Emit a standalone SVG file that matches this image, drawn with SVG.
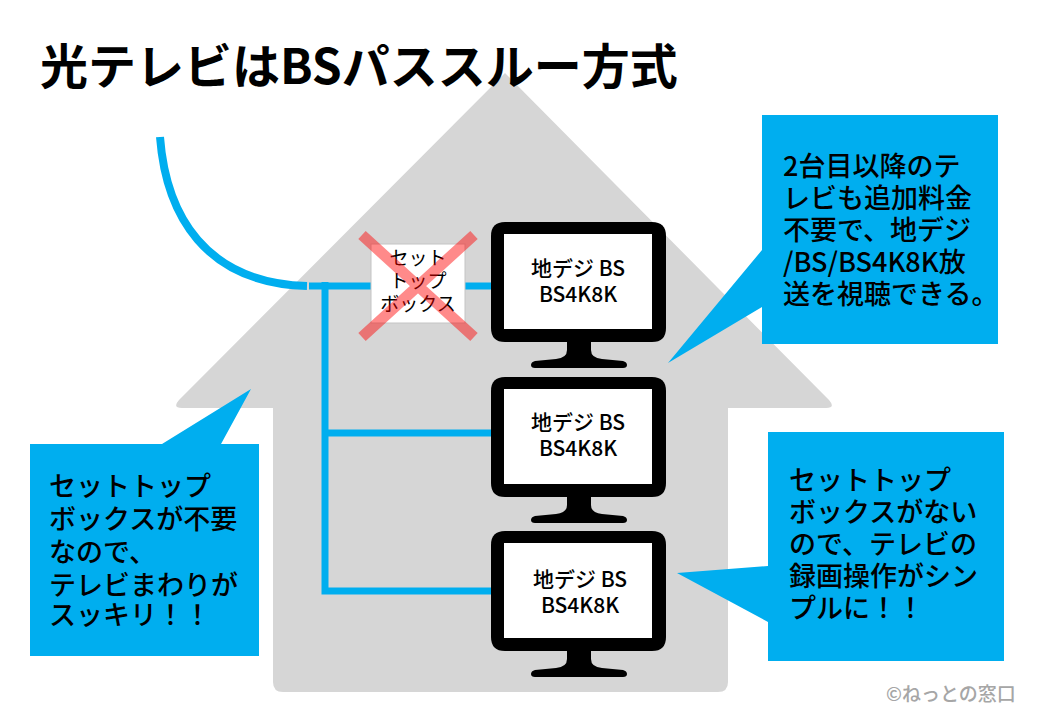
<svg xmlns="http://www.w3.org/2000/svg" width="1040" height="720" viewBox="0 0 1040 720">
<style>
text{font-family:"Noto Sans CJK JP","Noto Sans",sans-serif}
.t{font-size:48px;font-weight:700;fill:#000}
.c{font-size:27px;font-weight:500;fill:#000}
.m{font-size:21px;font-weight:500;fill:#000;text-anchor:middle}
.s{font-size:19px;font-weight:400;fill:#000;text-anchor:middle}
.w{fill:none;stroke:#00aeef;stroke-width:7}
.b{fill:#00aeef}
</style>
<defs>
<g id="tv">
<path d="M505 222H652Q666 222 666 236V328Q666 342 652 342H505Q491 342 491 328V236Q491 222 505 222Z" fill="#000"/>
<rect x="504" y="234" width="148" height="95" fill="#fff"/>
<path d="M567 342H591V350Q591 358 602 359L623 361Q627 362 627 365Q627 368 623 368H535Q531 368 531 365Q531 362 535 361L556 359Q567 358 567 350Z" fill="#000"/>
</g>
</defs>
<path id="house" d="M505 73L829 400Q836 408 826 408H728V682Q728 692 718 692H283Q273 692 273 682V408H182Q172 408 179 400Z" fill="#d6d6d6"/>
<text class="t" x="40" y="84">光テレビはBSパススルー方式</text>
<g id="connectors">
<path class="w" stroke-width="8" style="stroke-width:8" d="M160 137C166 215 205 283 307 286"/>
<path class="w" d="M309 286H371M465 286H493M325 282V591H493M325 433H493"/>
</g>
<g id="stb">
<rect x="371" y="244" width="94" height="79" fill="#fff" stroke="#c4c4c4"/>
<text class="s"><tspan x="418" y="265">セット</tspan><tspan x="418" y="288">トップ</tspan><tspan x="418" y="311">ボックス</tspan></text>
<path d="M362 235L474 337M474 235L362 337" stroke="#ff0000" stroke-opacity=".46" stroke-width="11" fill="none"/>
</g>
<g id="tv1"><use href="#tv"/><text class="m"><tspan x="578" y="276">地デジ BS</tspan><tspan x="578" y="302">BS4K8K</tspan></text></g>
<g id="tv2"><use href="#tv" y="155"/><text class="m"><tspan x="578" y="430">地デジ BS</tspan><tspan x="578" y="456">BS4K8K</tspan></text></g>
<g id="tv3"><use href="#tv" y="309"/><text class="m"><tspan x="580" y="587">地デジ BS</tspan><tspan x="580" y="613">BS4K8K</tspan></text></g>
<g id="callout-top">
<path class="b" d="M762 115H998V344H762V307L668 363L762 250Z"/>
<text class="c"><tspan x="783" y="176">2台目以降のテ</tspan><tspan x="783" y="208">レビも追加料金</tspan><tspan x="783" y="240">不要で、地デジ</tspan><tspan x="783" y="272">/BS/BS4K8K放</tspan><tspan x="783" y="304">送を視聴できる。</tspan></text>
</g>
<g id="callout-left">
<path class="b" d="M30 444H162L251 389L221 444H259V656H30Z"/>
<text class="c"><tspan x="49" y="496">セットトップ</tspan><tspan x="49" y="529">ボックスが不要</tspan><tspan x="49" y="562">なので、</tspan><tspan x="49" y="595">テレビまわりが</tspan><tspan x="49" y="625">スッキリ！！</tspan></text>
</g>
<g id="callout-right">
<path class="b" d="M768 432H1004V661H768V622L677 573L768 566Z"/>
<text class="c"><tspan x="789" y="490">セットトップ</tspan><tspan x="789" y="522">ボックスがない</tspan><tspan x="789" y="554">ので、テレビの</tspan><tspan x="789" y="586">録画操作がシン</tspan><tspan x="789" y="618">プルに！！</tspan></text>
</g>
<text x="886" y="701" style="font-size:19px;font-weight:500" fill="#a6a6a6">©ねっとの窓口</text>
</svg>
